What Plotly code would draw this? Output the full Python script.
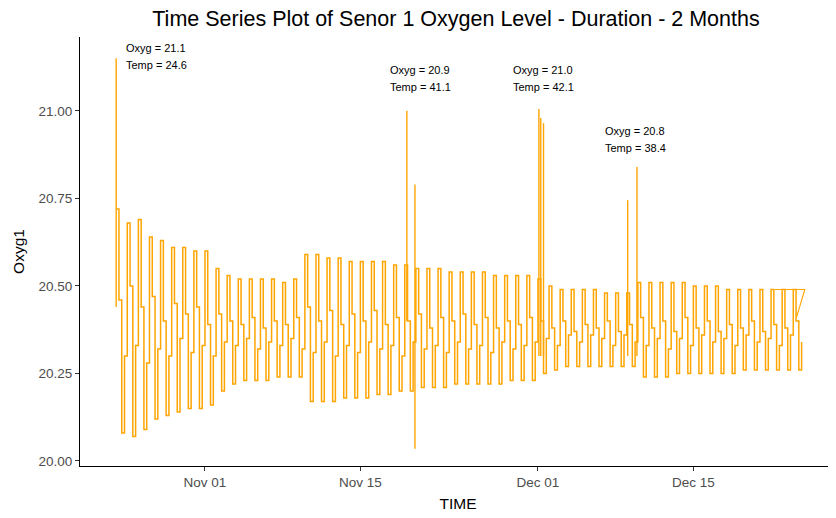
import pandas as pd
import plotly.graph_objects as go

# ---- data ----
start_date = "2019-10-24"
daily_high = [20.72, 20.68, 20.69, 20.64, 20.63, 20.61, 20.61, 20.60, 20.60, 20.55,
              20.53, 20.52, 20.52, 20.52, 20.52, 20.51, 20.52, 20.59, 20.59, 20.58,
              20.58, 20.57, 20.57, 20.57, 20.57, 20.56, 20.56, 20.55, 20.55, 20.55,
              20.54, 20.54, 20.54, 20.54, 20.53, 20.53, 20.53, 20.53, 20.52, 20.50,
              20.49, 20.49, 20.49, 20.49, 20.48, 20.48, 20.48, 20.51, 20.51, 20.51,
              20.51, 20.51, 20.50, 20.50, 20.50, 20.49, 20.49, 20.49, 20.49, 20.49,
              20.49, 20.49]
daily_mid_down = [20.46, 20.50, 20.44, 20.47, 20.40, 20.45, 20.42, 20.44, 20.39, 20.42,
                  20.40, 20.39, 20.41, 20.38, 20.40, 20.39, 20.41, 20.44, 20.40, 20.43,
                  20.39, 20.42, 20.40, 20.43, 20.39, 20.41, 20.40, 20.42, 20.38, 20.41,
                  20.40, 20.42, 20.39, 20.41, 20.38, 20.40, 20.39, 20.41, 20.40, 20.38,
                  20.40, 20.37, 20.39, 20.38, 20.40, 20.37, 20.39, 20.41, 20.38, 20.40,
                  20.37, 20.41, 20.38, 20.40, 20.37, 20.39, 20.38, 20.40, 20.37, 20.39,
                  20.38, 20.40]
daily_low = [20.08, 20.07, 20.09, 20.12, 20.13, 20.14, 20.15, 20.15, 20.16, 20.20,
             20.22, 20.23, 20.23, 20.23, 20.24, 20.24, 20.24, 20.17, 20.17, 20.17,
             20.18, 20.18, 20.18, 20.19, 20.19, 20.20, 20.20, 20.21, 20.21, 20.21,
             20.22, 20.22, 20.22, 20.22, 20.22, 20.23, 20.23, 20.23, 20.25, 20.26,
             20.27, 20.27, 20.27, 20.27, 20.27, 20.27, 20.27, 20.24, 20.24, 20.24,
             20.25, 20.25, 20.25, 20.25, 20.25, 20.25, 20.26, 20.26, 20.26, 20.26,
             20.26, 20.26]
daily_mid_up = [20.30, 20.33, 20.28, 20.32, 20.30, 20.35, 20.31, 20.33, 20.30, 20.34,
                20.33, 20.35, 20.32, 20.34, 20.33, 20.35, 20.32, 20.31, 20.34, 20.30,
                20.33, 20.31, 20.34, 20.32, 20.33, 20.30, 20.34, 20.32, 20.33, 20.31,
                20.34, 20.32, 20.33, 20.31, 20.34, 20.32, 20.33, 20.34, 20.35, 20.33,
                20.36, 20.34, 20.36, 20.35, 20.33, 20.36, 20.34, 20.33, 20.35, 20.32,
                20.35, 20.33, 20.36, 20.34, 20.35, 20.33, 20.36, 20.34, 20.35, 20.33,
                20.36, 20.34]

spike_times = ["2019-10-24 00:00", "2019-11-19 04:30", "2019-11-19 22:00",
               "2019-12-01 02:00", "2019-12-01 06:00", "2019-12-01 12:00",
               "2019-12-09 02:00", "2019-12-09 22:00"]
spike_tops = [21.15, 21.00, 20.79, 21.005, 20.98, 20.965, 20.745, 20.84]
spike_bases = [20.44, 20.40, 20.035, 20.30, 20.30, 20.30, 20.30, 20.30]

tail_times = ["2019-12-22 08:00", "2019-12-25 01:00", "2019-12-24 07:00"]
tail_values = [20.49, 20.49, 20.41]

label_oxyg = ["Oxyg = 21.1", "Oxyg = 20.9", "Oxyg = 21.0", "Oxyg = 20.8"]
label_temp = ["Temp = 24.6", "Temp = 41.1", "Temp = 42.1", "Temp = 38.4"]
label_times = ["2019-10-24 17:00", "2019-11-17 12:00", "2019-11-28 14:00", "2019-12-06 21:00"]
label_y = [21.18, 21.117, 21.117, 20.943]

x_tick_vals = ["2019-11-01", "2019-11-15", "2019-12-01", "2019-12-15"]
x_tick_text = ["Nov 01", "Nov 15", "Dec 01", "Dec 15"]
y_tick_vals = [20.00, 20.25, 20.50, 20.75, 21.00]

# ---- build series ----
days = pd.date_range(start_date, periods=len(daily_high), freq="D")
ts, vs = [], []
for d, hi, md, lo, mu in zip(days, daily_high, daily_mid_down, daily_low, daily_mid_up):
    for h, v in ((0, hi), (6, md), (12, lo), (18, mu)):
        ts.append(d + pd.Timedelta(hours=h))
        vs.append(v)

sx, sy = [], []
for t, top, base in zip(spike_times, spike_tops, spike_bases):
    sx += [t, t, None]
    sy += [base, top, None]

col = "#FFA500"
fig = go.Figure()
fig.add_trace(go.Scatter(x=ts, y=vs, mode="lines", line=dict(color=col, width=1.5, shape="hv"),
                         showlegend=False, hoverinfo="skip"))
fig.add_trace(go.Scatter(x=sx, y=sy, mode="lines", line=dict(color=col, width=1.4),
                         showlegend=False, hoverinfo="skip"))
fig.add_trace(go.Scatter(x=tail_times, y=tail_values, mode="lines", line=dict(color=col, width=1.1),
                         showlegend=False, hoverinfo="skip"))

dy = 0.05
for o, tmp, t, y in zip(label_oxyg, label_temp, label_times, label_y):
    for txt, yy in ((o, y), (tmp, y - dy)):
        fig.add_annotation(x=t, y=yy, text=txt, showarrow=False, xanchor="left", yanchor="middle",
                           font=dict(size=11, color="black", family="Liberation Sans, Arial"))

# the page body adds an 8 px offset, so margins are shifted to compensate
fig.update_layout(
    width=836, height=518,
    margin=dict(l=72, r=8, t=29, b=60),
    paper_bgcolor="white", plot_bgcolor="white",
    font=dict(family="Liberation Sans, Arial", color="black"),
    title=dict(text="Time Series Plot of Senor 1 Oxygen Level - Duration - 2 Months",
               x=448 / 836, xref="container", xanchor="center",
               y=1 - 10 / 518, yref="container", yanchor="middle",
               font=dict(size=21.5, color="black")),
    xaxis=dict(type="date", range=["2019-10-20 17:46", "2019-12-27 20:24"],
               tickvals=x_tick_vals, ticktext=x_tick_text, automargin=False,
               showline=True, linecolor="black", linewidth=1.1,
               ticks="outside", ticklen=4, tickcolor="#333333", showgrid=False, zeroline=False,
               tickfont=dict(size=13.5, color="#4D4D4D"),
               title=dict(text="TIME", font=dict(size=15.5, color="black"), standoff=8)),
    yaxis=dict(range=[19.9857, 21.211], tickvals=y_tick_vals, tickformat=".2f", automargin=False,
               showline=True, linecolor="black", linewidth=1.1,
               ticks="outside", ticklen=4, tickcolor="#333333", showgrid=False, zeroline=False,
               tickfont=dict(size=13.5, color="#4D4D4D"),
               title=dict(text="Oxyg1", font=dict(size=15.5, color="black"), standoff=10)),
)

fig.write_html("out.html")
